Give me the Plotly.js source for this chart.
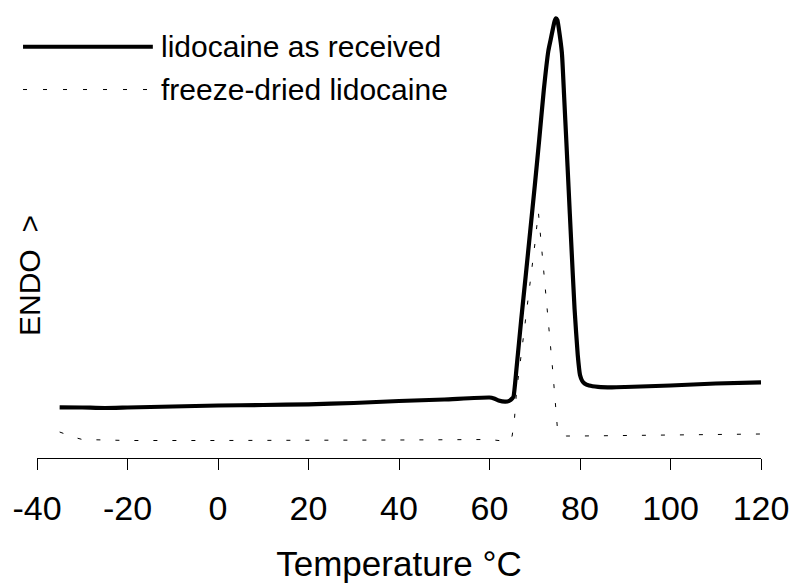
<!DOCTYPE html>
<html>
<head>
<meta charset="utf-8">
<script src="https://cdn.plot.ly/plotly-3.0.1.min.js"></script>
<style>html,body{margin:0;padding:0;background:#fff;}#chart{width:794px;height:583px;}</style>
</head>
<body>
<div id="chart"></div>
<script>
// Series names
const seriesNames = ["lidocaine as received", "freeze-dried lidocaine"];

// Lidocaine as received (temperature °C, heat flow arbitrary units, endo up)
const tempReceived = [-35,-30,-25,-20,-10,0,10,20,30,40,50,60,61,62,63.5,64.5,65,65.3,66,67,68,69,70,71,72,73,73.5,74,74.4,74.7,75,75.3,76,76.5,77,77.5,78,78.8,79.5,80,80.5,81,82,84,87,90,100,110,120];
const flowReceived = [5.07,5.05,5.0,5.05,5.15,5.25,5.3,5.37,5.5,5.7,5.85,6.05,5.95,5.75,5.63,5.75,5.95,6.13,9.1,13.8,18.2,22.7,27.2,31.9,36.8,40.7,41.8,42.9,43.7,43.97,43.8,43.0,40.5,36.1,31.5,26.8,22.1,14.9,10.3,8.3,7.7,7.45,7.25,7.12,7.07,7.1,7.25,7.45,7.57];

// Freeze-dried lidocaine
const tempFreeze = [-35,-32,-30,-20,0,20,40,60,62,63,64.5,65,65.5,66,67,68,69,70,70.8,71.5,72,73,74,75,75.5,77,80,90,100,110,120];
const flowFreeze = [2.6,2.1,1.85,1.75,1.75,1.75,1.8,1.85,1.8,1.7,1.75,2.2,3.8,6.8,10.3,13.8,17.3,21.3,24.6,21.3,18.6,13.6,8.6,3.0,2.4,2.2,2.2,2.25,2.3,2.35,2.4];

// Axis ticks
const xTicks = [-40,-20,0,20,40,60,80,100,120];
const xTickLabels = ["-40","-20","0","20","40","60","80","100","120"];

const FONT = "Liberation Sans, Arial, Helvetica, sans-serif";
const solidStyle = {color: "#000", width: 4.2, shape: "spline", smoothing: 0.5};
const dotStyle = {color: "#000", width: 1, dash: "4px,15px"};

const traces = [
  {x: tempReceived, y: flowReceived, name: seriesNames[0], mode: "lines", line: solidStyle, showlegend: false, hoverinfo: "x+y"},
  {x: tempFreeze, y: flowFreeze, name: seriesNames[1], mode: "lines", line: dotStyle, showlegend: false, hoverinfo: "x+y"}
];

const legendX0 = -0.0193, legendX1 = 0.160, legendTextX = 0.169;
const legendY = [0.918, 0.8225];

const layout = {
  width: 794, height: 583,
  margin: {l: 37, r: 33, t: 10, b: 125, pad: 0},
  paper_bgcolor: "#fff", plot_bgcolor: "#fff",
  font: {family: FONT, color: "#000"},
  xaxis: {
    range: [-40, 120], tickmode: "array", tickvals: xTicks, ticktext: xTickLabels,
    showline: true, linecolor: "#000", linewidth: 1,
    ticks: "outside", ticklen: 11, tickwidth: 1, tickcolor: "#000",
    ticklabelstandoff: 9,
    showgrid: false, zeroline: false,
    tickfont: {family: FONT, size: 34, color: "#000"},
    title: {text: "Temperature °C", font: {family: FONT, size: 35, color: "#000"}, standoff: 26}
  },
  yaxis: {
    range: [0, 44.8], visible: true, showline: false, showgrid: false, zeroline: false,
    showticklabels: false, ticks: ""
  },
  shapes: [
    {type: "line", xref: "paper", yref: "paper", x0: legendX0, x1: legendX1, y0: legendY[0], y1: legendY[0], line: {color: "#000", width: 4}},
    {type: "line", xref: "paper", yref: "paper", x0: legendX0, x1: legendX1, y0: legendY[1], y1: legendY[1], line: {color: "#000", width: 1, dash: "4px,16px"}}
  ],
  annotations: [
    {text: seriesNames[0], xref: "paper", yref: "paper", x: legendTextX, y: legendY[0], xanchor: "left", yanchor: "middle", showarrow: false, font: {family: FONT, size: 30, color: "#000"}},
    {text: seriesNames[1], xref: "paper", yref: "paper", x: legendTextX, y: legendY[1], xanchor: "left", yanchor: "middle", showarrow: false, font: {family: FONT, size: 30, color: "#000"}},
    {text: "ENDO\u00a0\u00a0>", xref: "paper", yref: "paper", x: -0.0097, y: 0.4085, xanchor: "center", yanchor: "middle", textangle: -90, showarrow: false, font: {family: FONT, size: 30, color: "#000"}}
  ]
};

Plotly.newPlot("chart", traces, layout, {displayModeBar: false, staticPlot: true});
</script>
</body>
</html>
